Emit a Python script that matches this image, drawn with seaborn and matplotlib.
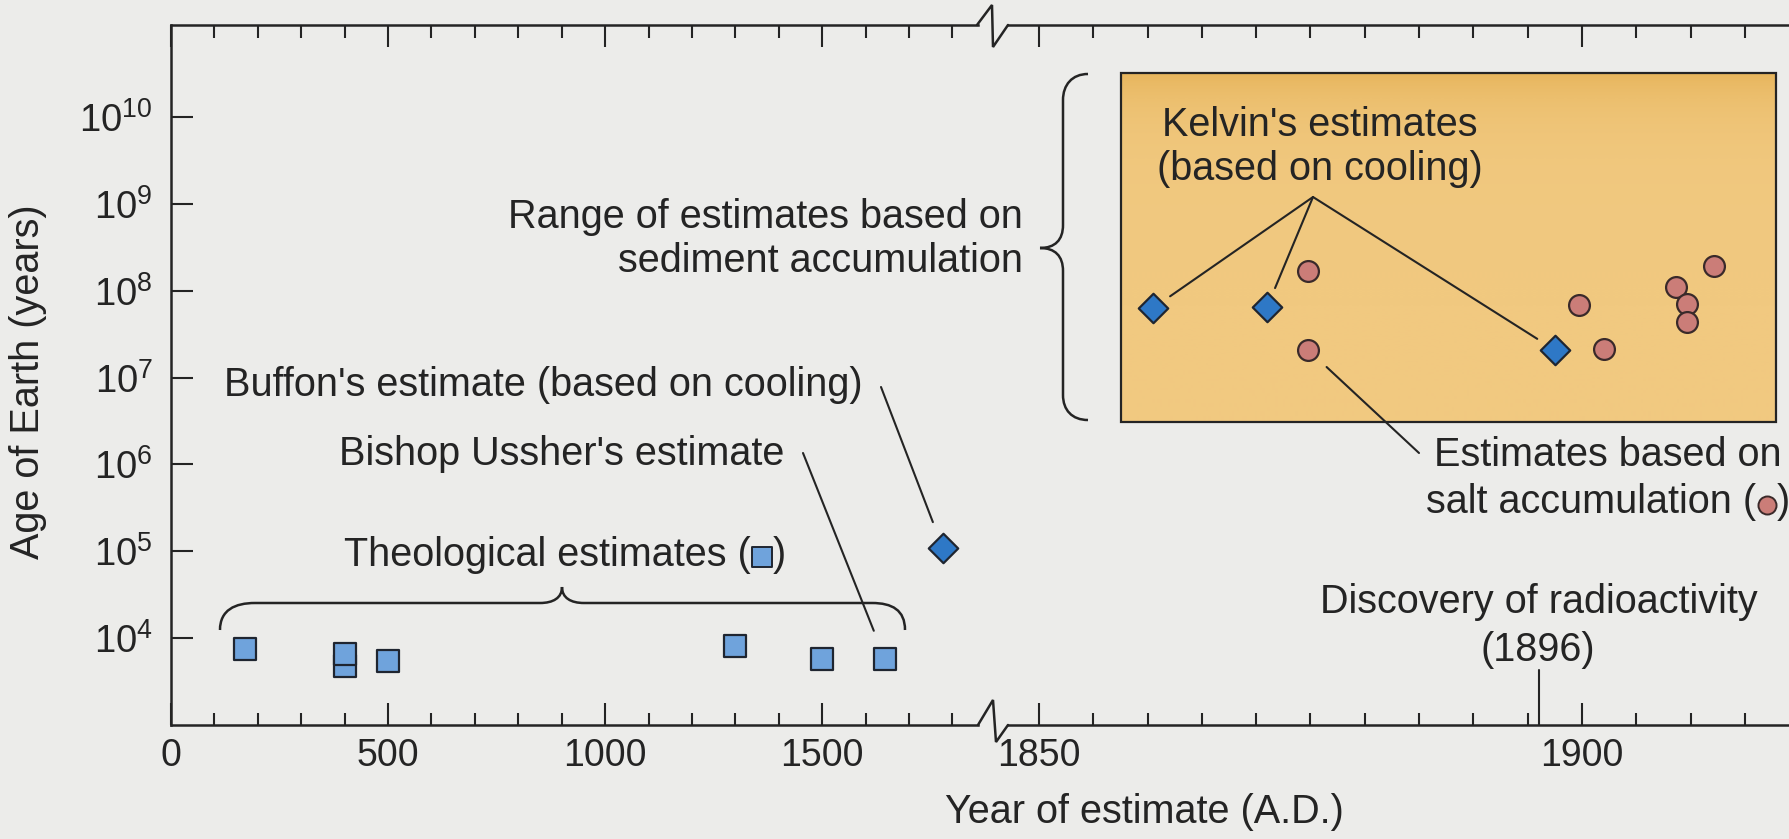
import numpy as np
import pandas as pd
import seaborn as sns
import matplotlib
matplotlib.use("Agg")
import matplotlib.pyplot as plt
from matplotlib.path import Path
from matplotlib.patches import PathPatch, Rectangle
from matplotlib.ticker import NullLocator

# ---------------- data ----------------
theo_year = [170, 400, 400, 500, 1300, 1500, 1645]
theo_age = [7470, 4750, 6550, 5430, 8090, 5730, 5730]

buffon_year = [1778]
buffon_age = [1.09e5]

kelvin_year = [1860.5, 1871.0, 1897.5]
kelvin_age = [6.3e7, 6.45e7, 2.08e7]

salt_year = [1874.8, 1874.8, 1899.7, 1902.0, 1908.7, 1909.7, 1909.7, 1912.2]
salt_age = [1.69e8, 2.08e7, 6.86e7, 2.14e7, 1.10e8, 7.05e7, 4.37e7, 1.93e8]

left_major = [0, 500, 1000, 1500]
left_major_labels = ["0", "500", "1000", "1500"]
right_major = [1850, 1900]
right_major_labels = ["1850", "1900"]
y_ticks = [1e4, 1e5, 1e6, 1e7, 1e8, 1e9, 1e10]
y_labels = ["$10^{4}$", "$10^{5}$", "$10^{6}$", "$10^{7}$", "$10^{8}$", "$10^{9}$", "$10^{10}$"]
radioactivity_year = 1896
sediment_box = dict(x0=1857.6, x1=1917.9, y0=10**6.49, y1=10**10.51)

# ---------------- style ----------------
W, H = 1789, 839
BG = "#ECECEA"
INK = "#242424"
SQ = "#6FA3DC"
DIA = "#2E78C6"
CIR = "#CB7D78"
EDGE = "#1F2530"
FS = 28.5
TFS = 27

sns.set_theme(style="white")
plt.rcParams["font.family"] = ["Liberation Sans", "DejaVu Sans"]
plt.rcParams["mathtext.fontset"] = "custom"
plt.rcParams["mathtext.rm"] = "Liberation Sans"
plt.rcParams["mathtext.it"] = "Liberation Sans:italic"
plt.rcParams["text.color"] = INK
plt.rcParams["axes.edgecolor"] = INK
plt.rcParams["xtick.color"] = INK
plt.rcParams["ytick.color"] = INK

fig = plt.figure(figsize=(W / 100, H / 100), dpi=100, facecolor=BG)

def frac_box(x0, x1, ytop, ybot):
    return [x0 / W, (H - ybot) / H, (x1 - x0) / W, (ybot - ytop) / H]

axL = fig.add_axes(frac_box(171, 978, 25, 725))
axR = fig.add_axes(frac_box(1008, 1789, 25, 725), sharey=axL)

for ax in (axL, axR):
    ax.set_facecolor(BG)
    ax.set_yscale("log")
    for sp in ax.spines.values():
        sp.set_linewidth(1.8)
        sp.set_color(INK)
    ax.spines["right"].set_visible(False)

axR.spines["left"].set_visible(False)
axL.set_ylim(1e3, 10**11.06)
axL.set_xlim(0, 1859)
axR.set_xlim(1847.15, 1919.06)

# ticks
axL.set_yticks(y_ticks)
axL.set_yticklabels(y_labels)
axL.yaxis.set_minor_locator(NullLocator())
axL.set_xticks(left_major)
axL.set_xticklabels(left_major_labels)
axL.set_xticks([v for v in range(100, 1900, 100) if v not in left_major], minor=True)
axR.set_xticks(right_major)
axR.set_xticklabels(right_major_labels)
axR.set_xticks([v for v in range(1855, 1920, 5) if v not in right_major], minor=True)

for ax in (axL, axR):
    ax.tick_params(axis="x", which="both", direction="in", top=True, bottom=True,
                   labeltop=False, labelbottom=True, width=1.5)
    ax.tick_params(axis="x", which="major", length=16, labelsize=TFS, pad=9)
    ax.tick_params(axis="x", which="minor", length=9)
axL.tick_params(axis="y", which="major", direction="in", length=16, width=1.5,
                labelsize=TFS + 0.5, pad=13, left=True, right=False)
axR.tick_params(axis="y", which="both", left=False, right=False,
                labelleft=False, labelright=False)

# sediment box with a soft gradient
grad = np.linspace(0, 1, 256).reshape(-1, 1)
top_c = np.array([231, 181, 92]) / 255
bot_c = np.array([241, 201, 128]) / 255
img = top_c[None, None, :] * (1 - grad[:, :, None]) + bot_c[None, None, :] * grad[:, :, None]
axR.imshow(img, extent=[sediment_box["x0"], sediment_box["x1"], sediment_box["y0"], sediment_box["y1"]],
           aspect="auto", origin="upper", zorder=1, interpolation="bilinear")
axR.add_patch(Rectangle((sediment_box["x0"], sediment_box["y0"]),
                        sediment_box["x1"] - sediment_box["x0"],
                        sediment_box["y1"] - sediment_box["y0"],
                        facecolor="none", edgecolor=INK, linewidth=1.6, zorder=2))
axR.set_xlim(1847.15, 1919.06)
axL.set_ylim(1e3, 10**11.06)

# data marks
sns.scatterplot(x=theo_year, y=theo_age, marker="s", s=16**2, color=SQ,
                edgecolor=EDGE, linewidth=1.6, ax=axL, zorder=4, legend=False)
sns.scatterplot(x=buffon_year, y=buffon_age, marker="D", s=15**2, color=DIA,
                edgecolor=EDGE, linewidth=1.6, ax=axL, zorder=4, legend=False)
sns.scatterplot(x=kelvin_year, y=kelvin_age, marker="D", s=15**2, color=DIA,
                edgecolor=EDGE, linewidth=1.6, ax=axR, zorder=4, legend=False)
sns.scatterplot(x=salt_year, y=salt_age, marker="o", s=15**2, color=CIR,
                edgecolor="#3A2A2A", linewidth=1.6, ax=axR, zorder=4, legend=False)

# radioactivity marker line
axR.axvline(radioactivity_year, ymin=0, ymax=55 / 700, color=INK, lw=1.5, zorder=3)

# ---------------- overlay in pixel coords (top-left origin) ----------------
ov = fig.add_axes([0, 0, 1, 1], zorder=5)
ov.set_xlim(0, W)
ov.set_ylim(H, 0)
ov.axis("off")

# axis break marks
ov.plot([977, 992, 993, 1008], [25, 5, 47, 25], color=INK, lw=1.8, solid_joinstyle="miter")
ov.plot([978, 993, 996, 1008], [725, 700, 742, 725], color=INK, lw=1.8, solid_joinstyle="miter")

# axis labels
axL.set_ylabel("Age of Earth (years)", fontsize=FS, color=INK)
axL.yaxis.set_label_coords(-0.154, 0.49)
ov.text(1144, 812, "Year of estimate (A.D.)", ha="center", va="center", fontsize=FS)

# annotations
ov.text(224, 385, "Buffon's estimate (based on cooling)", ha="left", va="center", fontsize=FS)
ov.text(339, 454, "Bishop Ussher's estimate", ha="left", va="center", fontsize=FS)
ov.text(1023, 217, "Range of estimates based on", ha="right", va="center", fontsize=FS)
ov.text(1023, 261, "sediment accumulation", ha="right", va="center", fontsize=FS)
ov.text(1320, 125, "Kelvin's estimates", ha="center", va="center", fontsize=FS)
ov.text(1320, 169, "(based on cooling)", ha="center", va="center", fontsize=FS)
ov.text(1608, 455, "Estimates based on", ha="center", va="center", fontsize=FS)
ov.text(1539, 602, "Discovery of radioactivity", ha="center", va="center", fontsize=FS)
ov.text(1538, 650, "(1896)", ha="center", va="center", fontsize=FS)

renderer = fig.canvas.get_renderer()
t_theo = ov.text(344, 555, "Theological estimates (", ha="left", va="center", fontsize=FS)
bb = t_theo.get_window_extent(renderer)
mx = bb.x1 + 11
ov.scatter([mx], [557], marker="s", s=14**2, color=SQ, edgecolor=EDGE, linewidth=1.4, zorder=6)
ov.text(mx + 11, 555, ")", ha="left", va="center", fontsize=FS)

t_salt = ov.text(1426, 502, "salt accumulation (", ha="left", va="center", fontsize=FS)
bb = t_salt.get_window_extent(renderer)
cx = bb.x1 + 11
ov.scatter([cx], [505], marker="o", s=13**2, color=CIR, edgecolor="#3A2A2A", linewidth=1.4, zorder=6)
ov.text(cx + 10, 502, ")", ha="left", va="center", fontsize=FS)

# leader lines: from label anchor (pixel) to data mark (data)
line_kw = dict(arrowstyle="-", color=INK, lw=1.5, shrinkA=0)
for yr, ag in zip(kelvin_year, kelvin_age):
    axR.annotate("", xy=(yr, ag), xycoords="data", xytext=(1313, 197), textcoords=ov.transData,
                 arrowprops=dict(line_kw, shrinkB=15), annotation_clip=False)
axL.annotate("", xy=(buffon_year[0], buffon_age[0]), xytext=(881, 387), textcoords=ov.transData,
             arrowprops=dict(line_kw, shrinkB=20), annotation_clip=False)
axL.annotate("", xy=(theo_year[-1], theo_age[-1]), xytext=(803, 453), textcoords=ov.transData,
             arrowprops=dict(line_kw, shrinkB=22), annotation_clip=False)
axR.annotate("", xy=(salt_year[1], salt_age[1]), xytext=(1419, 453), textcoords=ov.transData,
             arrowprops=dict(line_kw, shrinkB=18), annotation_clip=False)

# braces
def draw_path(verts, codes):
    ov.add_patch(PathPatch(Path(verts, codes), facecolor="none", edgecolor=INK, lw=1.8))

M, L, C = Path.MOVETO, Path.LINETO, Path.CURVE4
# horizontal brace over theological estimates
v = [(220, 630), (220, 610), (235, 603), (255, 603),
     (540, 603), (553, 603), (562, 598), (562, 587),
     (562, 598), (571, 603), (584, 603),
     (872, 603), (892, 603), (905, 610), (905, 630)]
c = [M, C, C, C, L, C, C, C, C, C, C, L, C, C, C]
draw_path(v, c)
# vertical brace left of sediment box
v = [(1088, 74), (1072, 74), (1063, 85), (1063, 100),
     (1063, 225), (1063, 240), (1055, 248), (1040, 248),
     (1055, 248), (1063, 256), (1063, 271),
     (1063, 395), (1063, 410), (1072, 420), (1088, 420)]
draw_path(v, c)

fig.savefig("out.png", dpi=100, facecolor=BG)
